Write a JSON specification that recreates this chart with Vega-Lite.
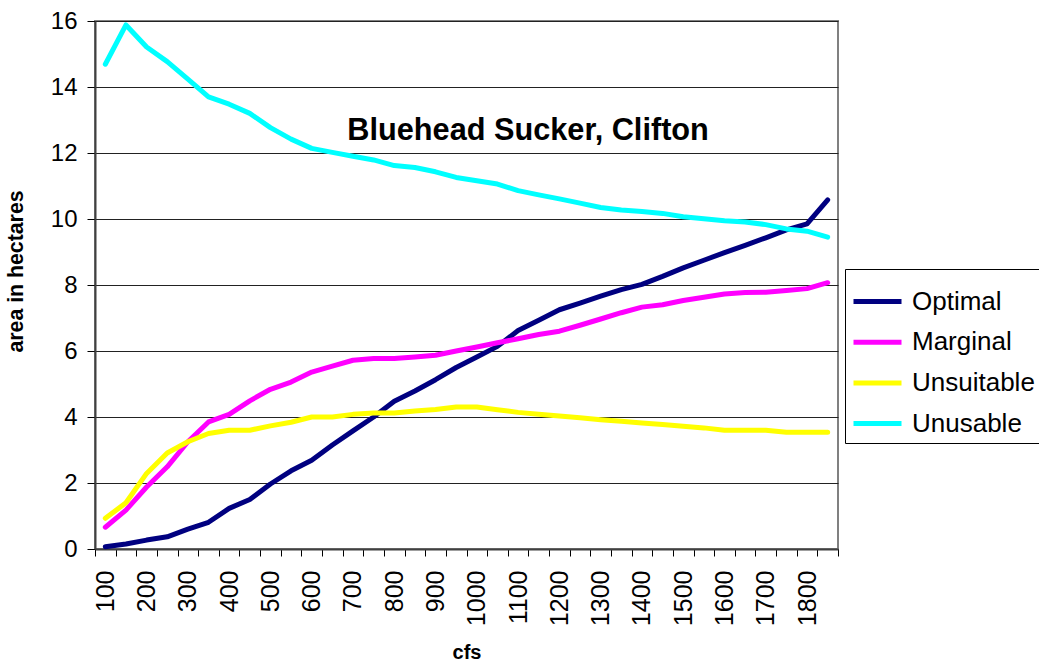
{
  "$schema": "https://vega.github.io/schema/vega-lite/v6.json",
  "autosize": {"type": "none"},
  "width": 743,
  "height": 528,
  "padding": {"left": 95, "top": 21, "right": 201, "bottom": 119},
  "background": "white",
  "config": {
    "font": "Liberation Sans",
    "view": {"stroke": "#808080", "strokeWidth": 2}
  },
  "data": {
    "values": [
      {"cfs": 100, "Optimal": 0.07, "Marginal": 0.66, "Unsuitable": 0.93, "Unusable": 14.69},
      {"cfs": 150, "Optimal": 0.15, "Marginal": 1.18, "Unsuitable": 1.4, "Unusable": 15.88},
      {"cfs": 200, "Optimal": 0.27, "Marginal": 1.88, "Unsuitable": 2.29, "Unusable": 15.21},
      {"cfs": 250, "Optimal": 0.37, "Marginal": 2.49, "Unsuitable": 2.91, "Unusable": 14.77},
      {"cfs": 300, "Optimal": 0.6, "Marginal": 3.25, "Unsuitable": 3.25, "Unusable": 14.24},
      {"cfs": 350, "Optimal": 0.81, "Marginal": 3.85, "Unsuitable": 3.5, "Unusable": 13.7},
      {"cfs": 400, "Optimal": 1.23, "Marginal": 4.08, "Unsuitable": 3.6, "Unusable": 13.48},
      {"cfs": 450, "Optimal": 1.5, "Marginal": 4.49, "Unsuitable": 3.6, "Unusable": 13.2},
      {"cfs": 500, "Optimal": 1.97, "Marginal": 4.84, "Unsuitable": 3.73, "Unusable": 12.77},
      {"cfs": 550, "Optimal": 2.37, "Marginal": 5.06, "Unsuitable": 3.84, "Unusable": 12.42},
      {"cfs": 600, "Optimal": 2.69, "Marginal": 5.36, "Unsuitable": 4.0, "Unusable": 12.14},
      {"cfs": 650, "Optimal": 3.15, "Marginal": 5.54, "Unsuitable": 4.0, "Unusable": 12.02},
      {"cfs": 700, "Optimal": 3.58, "Marginal": 5.72, "Unsuitable": 4.08, "Unusable": 11.9},
      {"cfs": 750, "Optimal": 4.0, "Marginal": 5.77, "Unsuitable": 4.12, "Unusable": 11.79},
      {"cfs": 800, "Optimal": 4.48, "Marginal": 5.77, "Unsuitable": 4.12, "Unusable": 11.62},
      {"cfs": 850, "Optimal": 4.79, "Marginal": 5.82, "Unsuitable": 4.18, "Unusable": 11.56},
      {"cfs": 900, "Optimal": 5.13, "Marginal": 5.87, "Unsuitable": 4.23, "Unusable": 11.43},
      {"cfs": 950, "Optimal": 5.5, "Marginal": 6.0, "Unsuitable": 4.3, "Unusable": 11.26},
      {"cfs": 1000, "Optimal": 5.82, "Marginal": 6.12, "Unsuitable": 4.3, "Unusable": 11.16},
      {"cfs": 1050, "Optimal": 6.14, "Marginal": 6.25, "Unsuitable": 4.22, "Unusable": 11.06},
      {"cfs": 1100, "Optimal": 6.62, "Marginal": 6.37, "Unsuitable": 4.14, "Unusable": 10.86},
      {"cfs": 1150, "Optimal": 6.93, "Marginal": 6.5, "Unsuitable": 4.08, "Unusable": 10.73},
      {"cfs": 1200, "Optimal": 7.25, "Marginal": 6.6, "Unsuitable": 4.03, "Unusable": 10.61},
      {"cfs": 1250, "Optimal": 7.45, "Marginal": 6.78, "Unsuitable": 3.98, "Unusable": 10.48},
      {"cfs": 1300, "Optimal": 7.66, "Marginal": 6.97, "Unsuitable": 3.92, "Unusable": 10.35},
      {"cfs": 1350, "Optimal": 7.86, "Marginal": 7.16, "Unsuitable": 3.87, "Unusable": 10.27},
      {"cfs": 1400, "Optimal": 8.02, "Marginal": 7.33, "Unsuitable": 3.82, "Unusable": 10.23},
      {"cfs": 1450, "Optimal": 8.26, "Marginal": 7.4, "Unsuitable": 3.77, "Unusable": 10.17},
      {"cfs": 1500, "Optimal": 8.52, "Marginal": 7.53, "Unsuitable": 3.72, "Unusable": 10.07},
      {"cfs": 1550, "Optimal": 8.75, "Marginal": 7.63, "Unsuitable": 3.67, "Unusable": 10.01},
      {"cfs": 1600, "Optimal": 8.98, "Marginal": 7.73, "Unsuitable": 3.6, "Unusable": 9.95},
      {"cfs": 1650, "Optimal": 9.2, "Marginal": 7.77, "Unsuitable": 3.6, "Unusable": 9.91},
      {"cfs": 1700, "Optimal": 9.43, "Marginal": 7.78, "Unsuitable": 3.6, "Unusable": 9.83},
      {"cfs": 1750, "Optimal": 9.67, "Marginal": 7.83, "Unsuitable": 3.54, "Unusable": 9.7},
      {"cfs": 1800, "Optimal": 9.85, "Marginal": 7.89, "Unsuitable": 3.54, "Unusable": 9.63},
      {"cfs": 1850, "Optimal": 10.58, "Marginal": 8.07, "Unsuitable": 3.54, "Unusable": 9.45}
    ]
  },
  "transform": [
    {"fold": ["Optimal", "Marginal", "Unsuitable", "Unusable"], "as": ["type", "area"]}
  ],
  "encoding": {
    "x": {
      "field": "cfs",
      "type": "ordinal",
      "bandPosition": 0.5,
      "scale": {"type": "band", "paddingInner": 0, "paddingOuter": 0},
      "axis": {
        "title": "cfs",
        "titleFont": "Liberation Sans",
        "titleFontSize": 20,
        "titleFontWeight": "bold",
        "titleColor": "black",
        "titlePadding": 17,
        "labelAngle": 270,
        "labelAlign": "right",
        "labelBaseline": "middle",
        "labelFontSize": 25,
        "labelColor": "black",
        "labelPadding": 14,
        "labelExpr": "datum.value % 100 == 0 ? datum.label : ''",
        "labelOverlap": false,
        "tickBand": "extent",
        "tickSize": 7,
        "tickColor": "black",
        "domainColor": "#404040",
        "domainWidth": 2,
        "grid": false
      }
    },
    "y": {
      "field": "area",
      "type": "quantitative",
      "scale": {"domain": [0, 16], "nice": false},
      "axis": {
        "title": "area in hectares",
        "titleFontSize": 21.3,
        "titleFontWeight": "bold",
        "titleColor": "black",
        "titlePadding": 24,
        "titleY": 250,
        "values": [0, 2, 4, 6, 8, 10, 12, 14, 16],
        "labelFontSize": 24,
        "labelColor": "black",
        "labelPadding": 10,
        "tickSize": 8,
        "tickColor": "black",
        "domainColor": "#404040",
        "domainWidth": 2,
        "grid": true,
        "gridColor": "#222222",
        "gridWidth": 1
      }
    }
  },
  "layer": [
    {
      "mark": {"type": "line", "strokeWidth": 5, "strokeCap": "round", "strokeJoin": "round"},
      "encoding": {
        "color": {
          "field": "type",
          "type": "nominal",
          "sort": ["Optimal", "Marginal", "Unsuitable", "Unusable"],
          "scale": {
            "domain": ["Optimal", "Marginal", "Unsuitable", "Unusable"],
            "range": ["#000080", "#FF00FF", "#FFFF00", "#00FFFF"]
          },
          "legend": {
            "title": null,
            "orient": "none",
            "legendX": 750,
            "legendY": 248,
            "symbolType": "stroke",
            "symbolSize": 2304,
            "symbolStrokeWidth": 5,
            "labelFontSize": 26,
            "labelColor": "black",
            "labelOffset": 8,
            "rowPadding": 0.7,
            "padding": 6,
            "strokeColor": "black",
            "fillColor": "white",
            "labelLimit": 300
          }
        }
      }
    },
    {
      "transform": [
        {"filter": "datum.cfs == 1100 && datum.type == 'Optimal'"}
      ],
      "mark": {"type": "text", "font": "Liberation Sans", "fontSize": 30.7, "fontWeight": "bold", "align": "center", "baseline": "alphabetic", "dx": 10, "color": "black"},
      "encoding": {
        "x": {"datum": 1100},
        "y": {"datum": 12.39},
        "text": {"value": "Bluehead Sucker, Clifton"}
      }
    }
  ]
}
